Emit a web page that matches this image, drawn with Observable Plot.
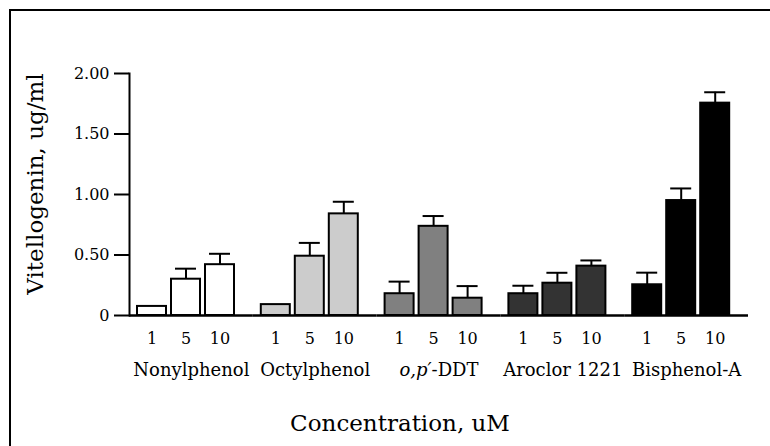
<!DOCTYPE html>
<html>
<head>
<meta charset="utf-8">
<script src="https://cdn.jsdelivr.net/npm/d3@7"></script>
<script src="https://cdn.jsdelivr.net/npm/@observablehq/plot@0.6"></script>
<style>
  html, body { margin: 0; padding: 0; background: #fff; overflow: hidden; }
  #wrap { position: relative; width: 770px; height: 446px; font-family: 'DejaVu Serif', serif; color: #000; }
  #frame { position: absolute; left: 9px; top: 9px; width: 800px; height: 480px;
           border: 2px solid #000; pointer-events: none; }
  #ytitle { position: absolute; left: 35px; top: 184px; font-size: 23px; white-space: nowrap;
            transform: translate(-50%, -50%) rotate(-90deg); line-height: 1; }
  #xtitle { position: absolute; left: 400px; top: 423px; font-size: 23px; white-space: nowrap;
            transform: translate(-50%, -50%); line-height: 1; }
</style>
</head>
<body>
<div id="wrap"><div id="chart"></div><div id="ytitle"></div><div id="xtitle"></div><div id="frame"></div></div>
<script>
// Categories
const groups = ["Nonylphenol", "Octylphenol", "o,p\u2032-DDT", "Aroclor 1221", "Bisphenol-A"];
const concentrations = ["1", "5", "10"];

// Mean vitellogenin (ug/ml) at 1, 5, 10 uM
const nonylphenol = [0.075, 0.30, 0.42];
const octylphenol = [0.09, 0.49, 0.84];
const opDDT       = [0.18, 0.737, 0.143];
const aroclor1221 = [0.18, 0.267, 0.408];
const bisphenolA  = [0.254, 0.95, 1.755];

// Error (upper bar length), 0 = no bar drawn
const nonylphenolErr = [0, 0.087, 0.09];
const octylphenolErr = [0, 0.11, 0.10];
const opDDTErr       = [0.10, 0.085, 0.10];
const aroclor1221Err = [0.066, 0.086, 0.047];
const bisphenolAErr  = [0.10, 0.10, 0.09];

// Y tick values and labels
const yTicks = [0, 0.5, 1, 1.5, 2];
const yTickLabels = ["0", "0.50", "1.00", "1.50", "2.00"];

// Titles
const yTitle = "Vitellogenin, ug/ml";
const xTitle = "Concentration, uM";

// Group fills
const groupFills = ["#ffffff", "#cccccc", "#808080", "#333333", "#000000"];

const meanSeries = [nonylphenol, octylphenol, opDDT, aroclor1221, bisphenolA];
const errSeries = [nonylphenolErr, octylphenolErr, opDDTErr, aroclor1221Err, bisphenolAErr];

const table = [];
groups.forEach((g, gi) => {
  concentrations.forEach((c, ci) => {
    table.push({group: g, conc: c, value: meanSeries[gi][ci], err: errSeries[gi][ci]});
  });
});
const withErr = table.filter(d => d.err > 0);

const chart = Plot.plot({
  width: 770,
  height: 446,
  marginLeft: 129,
  marginRight: 22,
  marginTop: 73,
  marginBottom: 131,
  style: {fontFamily: "'DejaVu Serif', serif", fontSize: "16px", color: "#000", background: "transparent"},
  fx: {domain: groups, padding: 0, round: false},
  x: {domain: concentrations, paddingInner: 0.135, paddingOuter: 0.35, align: 0.32},
  y: {domain: [0, 2]},
  color: {domain: groups, range: groupFills},
  marks: [
    Plot.frame({anchor: "left", facetAnchor: "left", stroke: "#000", strokeWidth: 2}),
    Plot.barY(table, {fx: "group", x: "conc", y: "value", fill: "group", stroke: "#000", strokeWidth: 2}),
    Plot.ruleX(withErr, {fx: "group", x: "conc", y1: "value", y2: d => d.value + d.err, stroke: "#000", strokeWidth: 2}),
    Plot.tickY(withErr, {fx: "group", x: "conc", y: d => d.value + d.err, stroke: "#000", strokeWidth: 2, insetLeft: 4, insetRight: 4}),
    Plot.ruleY([0], {stroke: "#000", strokeWidth: 2.5}),
    Plot.axisY({
      ticks: yTicks, tickFormat: d => yTickLabels[yTicks.indexOf(d)],
      tickSize: 15, tickPadding: 5, strokeWidth: 2, fontSize: 16, label: null
    }),
    Plot.axisX({tickSize: 0, tickPadding: 17, fontSize: 16, label: null}),
    Plot.axisFx({anchor: "bottom", tickSize: 0, tickPadding: 48, fontSize: 18, label: null})
  ]
});

// Italicise "o,p′" in the DDT label
chart.querySelectorAll("text").forEach(t => {
  if (t.textContent === "o,p\u2032-DDT") {
    const ns = "http://www.w3.org/2000/svg";
    while (t.firstChild) t.removeChild(t.firstChild);
    const a = document.createElementNS(ns, "tspan");
    a.setAttribute("font-style", "italic");
    a.textContent = "o,p\u2032";
    const b = document.createElementNS(ns, "tspan");
    b.textContent = "-DDT";
    t.appendChild(a); t.appendChild(b);
  }
});

document.getElementById("chart").appendChild(chart);
document.getElementById("ytitle").textContent = yTitle;
document.getElementById("xtitle").textContent = xTitle;
</script>
</body>
</html>
